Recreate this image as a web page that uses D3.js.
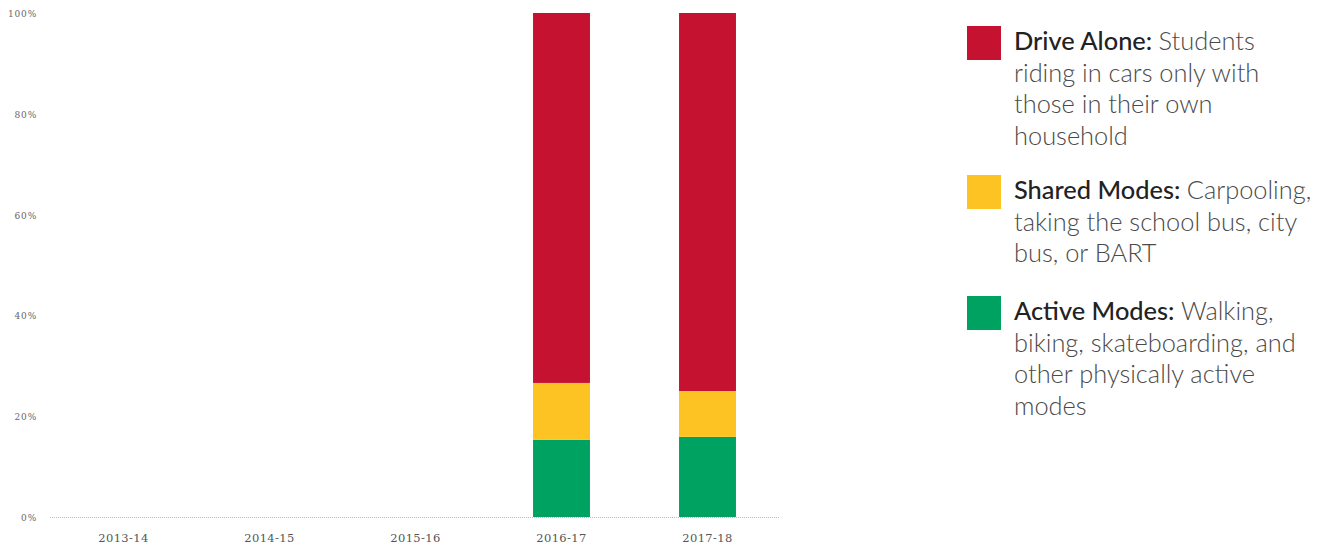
<!DOCTYPE html>
<html><head><meta charset="utf-8">
<script src="https://cdn.jsdelivr.net/npm/d3@7"></script>
<style>body{margin:0;background:#fff;}</style>
</head><body>
<svg id="chart" width="1335" height="546"></svg>
<script>
const categories = ["2013-14","2014-15","2015-16","2016-17","2017-18"];
const seriesNames = ["Active Modes","Shared Modes","Drive Alone"];
const activeModes = [null,null,null,15.3,15.9];
const sharedModes = [null,null,null,11.3,9.1];
const driveAlone  = [null,null,null,73.4,75.0];
const yTicks = [0,20,40,60,80,100];
const colors = {"Drive Alone":"#C41230","Shared Modes":"#FDC323","Active Modes":"#00A261"};
const legendItems = [
  {name:"Drive Alone", bold:"Drive Alone:", lines:["Students","riding in cars only with","those in their own","household"]},
  {name:"Shared Modes", bold:"Shared Modes:", lines:["Carpooling,","taking the school bus, city","bus, or BART"]},
  {name:"Active Modes", bold:"Active Modes:", lines:["Walking,","biking, skateboarding, and","other physically active","modes"]}
];

const svg = d3.select("#chart");
const x = d3.scaleBand().domain(categories).range([50,780]).paddingInner(0.61).paddingOuter(0.305);
const y = d3.scaleLinear().domain([0,100]).range([517,13]);

const rows = categories.map((c,i)=>({cat:c,"Active Modes":activeModes[i],"Shared Modes":sharedModes[i],"Drive Alone":driveAlone[i]}))
  .filter(d=>d["Active Modes"]!=null);
const stack = d3.stack().keys(seriesNames)(rows);

svg.append("line").attr("x1",50).attr("x2",780).attr("y1",y(0)+0.5).attr("y2",y(0)+0.5)
  .attr("stroke","#bbb").attr("stroke-width",1).attr("stroke-dasharray","1,1");

svg.append("g").selectAll("g").data(stack).join("g").attr("fill",d=>colors[d.key])
  .selectAll("rect").data(d=>d).join("rect")
  .attr("x",d=>x(d.data.cat)+0.5).attr("width",x.bandwidth())
  .attr("y",d=>y(d[1])).attr("height",d=>y(d[0])-y(d[1]));

svg.append("g").selectAll("text").data(yTicks).join("text")
  .attr("x",37).attr("y",d=>y(d)+4).attr("text-anchor","end")
  .attr("font-family","'DejaVu Serif', serif").attr("font-size",9).attr("fill","#666")
  .attr("letter-spacing","0.8px").text(d=>d+"%");

svg.append("g").selectAll("text").data(categories).join("text")
  .attr("x",d=>x(d)+x.bandwidth()/2+0.5).attr("y",542).attr("text-anchor","middle")
  .attr("font-family","'DejaVu Serif', serif").attr("font-size",11.5).attr("fill","#555")
  .attr("letter-spacing","0.4px").text(d=>d);

const legY = [26,175,296];
const lg = svg.append("g");
legendItems.forEach((it,i)=>{
  const g = lg.append("g").attr("transform",`translate(967,${legY[i]})`);
  g.append("rect").attr("width",34).attr("height",34).attr("fill",colors[it.name]);
  const t = g.append("text").attr("font-family","Lato, sans-serif").attr("font-size",25.4).attr("font-weight",300).attr("fill","#4a4a4a");
  it.lines.forEach((ln,j)=>{
    const ts = t.append("tspan").attr("x",47).attr("y",24+j*31.7);
    if(j===0){
      ts.append("tspan").attr("font-weight",500).attr("fill","#222").text(it.bold+" ");
      ts.append("tspan").text(ln);
    } else ts.text(ln);
  });
});
</script>
</body></html>
